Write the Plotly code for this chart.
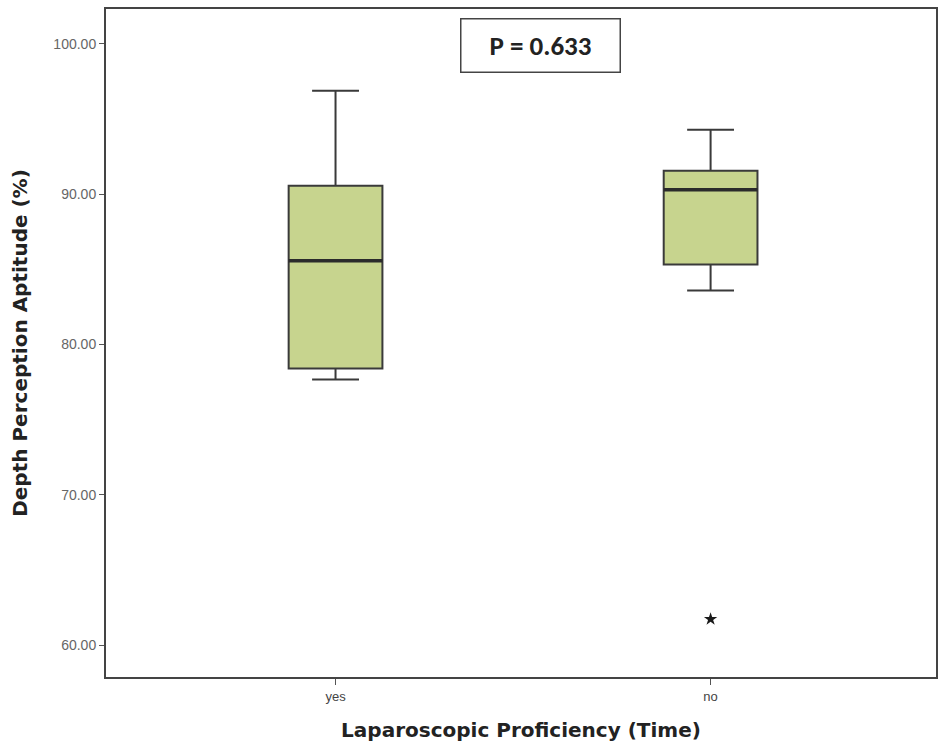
import plotly.graph_objects as go

# Depth perception aptitude (%) by laparoscopic proficiency group
groups = ["yes", "no"]
positions = [0, 1]
lower_whisker = [77.67, 83.59]
q1 = [78.40, 85.32]
median = [85.58, 90.30]
q3 = [90.56, 91.56]
upper_whisker = [96.88, 94.29]

# Extreme value in the "no" group
outlier_pos = [1]
outlier_val = [61.73]

p_text = "P = 0.633"

box_fill = "#c7d48e"
line_col = "#3a3a3a"
box_w = 0.25

fig = go.Figure()

for i, g in enumerate(groups):
    fig.add_trace(go.Box(
        x=[positions[i]],
        q1=[q1[i]], median=[median[i]], q3=[q3[i]],
        lowerfence=[lower_whisker[i]], upperfence=[upper_whisker[i]],
        name=g, width=box_w, whiskerwidth=0.5,
        fillcolor=box_fill, line=dict(color=line_col, width=2),
        boxpoints=False, showlegend=False, hoverinfo="skip",
    ))
    # heavier median bar
    fig.add_trace(go.Scatter(
        x=[positions[i] - box_w / 2, positions[i] + box_w / 2],
        y=[median[i], median[i]], mode="lines",
        line=dict(color="#2b2b2b", width=3.5),
        showlegend=False, hoverinfo="skip",
    ))

fig.add_trace(go.Scatter(
    x=outlier_pos, y=outlier_val, mode="markers",
    marker=dict(symbol="star", size=10, color="#1a1a1a"),
    showlegend=False, hoverinfo="skip",
))

title_font = dict(family="DejaVu Sans, sans-serif", size=20, color="#222")

fig.update_layout(
    width=945, height=756,
    margin=dict(l=106, r=7, t=7, b=79),
    paper_bgcolor="white", plot_bgcolor="white",
    font=dict(family="Liberation Sans, Arial, sans-serif"),
    xaxis=dict(
        range=[-0.612, 1.601],
        tickmode="array", tickvals=positions, ticktext=groups,
        ticks="outside", ticklen=6, tickcolor="#555", tickwidth=1,
        tickfont=dict(size=13, color="#444"),
        showgrid=False, zeroline=False,
        showline=True, linecolor="#444", linewidth=2, mirror=True,
        title=dict(text="<b>Laparoscopic Proficiency (Time)</b>",
                   font=title_font, standoff=20),
    ),
    yaxis=dict(
        range=[57.88, 102.32],
        tickvals=[60, 70, 80, 90, 100], tickformat=".2f",
        ticks="outside", ticklen=5, tickcolor="#555", tickwidth=1,
        tickfont=dict(size=14, color="#666"),
        showgrid=False, zeroline=False,
        showline=True, linecolor="#444", linewidth=2, mirror=True,
        title=dict(text="<b>Depth Perception Aptitude (%)</b>",
                   font=title_font, standoff=20),
    ),
    annotations=[dict(
        text="<b>" + p_text + "</b>", xref="paper", yref="paper",
        x=0.523, y=0.945, xanchor="center", yanchor="middle", showarrow=False,
        font=dict(family="Carlito, Liberation Sans, sans-serif", size=27, color="#222"),
        width=150, height=44,
        bordercolor="#444", borderwidth=1.5, borderpad=4, bgcolor="white",
    )],
)

fig.write_html("out.html")
